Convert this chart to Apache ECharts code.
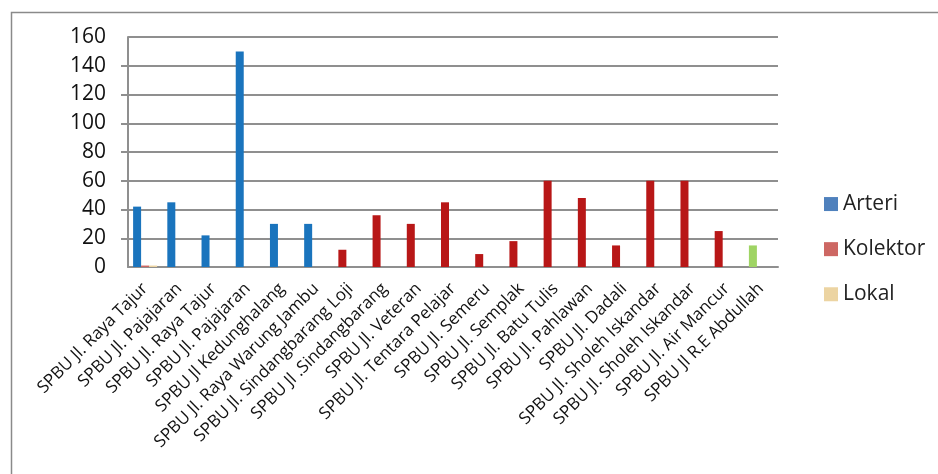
<html>

<head>
    <title>SPBU</title>
    <script src="https://cdn.jsdelivr.net/npm/echarts@6.0.0/dist/echarts.min.js"></script>
</head>

<body style="margin:0;">
    <div id="main" style="width:938px;height:474px;"></div>
    <script type="text/javascript">
        var categories = [
            "SPBU Jl. Raya Tajur", "SPBU Jl. Pajajaran", "SPBU Jl. Raya Tajur", "SPBU Jl. Pajajaran",
            "SPBU Jl Kedunghalang", "SPBU Jl. Raya Warung Jambu", "SPBU Jl. Sindangbarang Loji",
            "SPBU Jl .Sindangbarang", "SPBU Jl. Veteran", "SPBU Jl. Tentara Pelajar", "SPBU Jl. Semeru",
            "SPBU Jl. Semplak", "SPBU Jl. Batu Tulis", "SPBU Jl. Pahlawan", "SPBU Jl. Dadali",
            "SPBU Jl. Sholeh Iskandar", "SPBU Jl. Sholeh Iskandar", "SPBU Jl. Air Mancur", "SPBU Jl R.E Abdullah"
        ];
        // first series holds every station; colour follows the road class
        var arteri = [42, 45, 22, 150, 30, 30, 12, 36, 30, 45, 9, 18, 60, 48, 15, 60, 60, 25, 15];
        var roadClass = ["A", "A", "A", "A", "A", "A", "K", "K", "K", "K", "K", "K", "K", "K", "K", "K", "K", "K", "L"];
        var kolektor = [1, "-", "-", "-", "-", "-", "-", "-", "-", "-", "-", "-", "-", "-", "-", "-", "-", "-", "-"];
        var lokal = [1, "-", "-", "-", "-", "-", "-", "-", "-", "-", "-", "-", "-", "-", "-", "-", "-", "-", "-"];
        var seriesNames = ["Arteri", "Kolektor", "Lokal"];
        var yTicks = { min: 0, max: 160, interval: 20 };

        var classColor = { A: "#1a74bd", K: "#b81717", L: "#9fd464" };
        var gridColor = "#8f8f8f";
        var yLabelStyle = { fontSize: 21, color: "#111", margin: 22, fontFamily: "Open Sans", hideOverlap: false };

        var myChart = echarts.init(document.getElementById('main'));
        var option = {
            animation: false,
            backgroundColor: "#fff",
            textStyle: { fontFamily: "Open Sans" },
            graphic: [{
                type: "rect",
                left: 9, top: 10,
                shape: { width: 1000, height: 500 },
                style: { fill: "none", stroke: "#8a8a8a", lineWidth: 1.5 },
                silent: true
            }],
            grid: { left: 128, right: 160, top: 37, bottom: 207 },
            legend: {
                orient: "vertical",
                left: 819,
                top: 182,
                itemWidth: 14,
                itemHeight: 14,
                itemGap: 11,
                icon: "rect",
                textStyle: { fontSize: 21, color: "#222", fontFamily: "Open Sans" },
                data: seriesNames
            },
            xAxis: {
                type: "category",
                data: categories,
                axisLine: { lineStyle: { color: gridColor, width: 2 } },
                axisTick: { length: 5, lineStyle: { color: gridColor, width: 2 } },
                axisLabel: {
                    interval: 0, rotate: 45, fontSize: 17, color: "#111",
                    fontFamily: "Open Sans", margin: 19
                }
            },
            yAxis: [
                {
                    // inner labels (20..140) plus lines
                    type: "value", position: "left",
                    min: yTicks.min, max: yTicks.max, interval: yTicks.interval,
                    axisLine: { show: true, lineStyle: { color: gridColor, width: 2 } },
                    axisTick: { show: true, length: 7, lineStyle: { color: gridColor, width: 2 } },
                    axisLabel: Object.assign({ showMinLabel: false, showMaxLabel: false }, yLabelStyle),
                    splitLine: { showMinLine: true, showMaxLine: true, lineStyle: { color: gridColor, width: 2 } }
                },
                {
                    // end labels (0 and 160) only
                    type: "value", position: "left",
                    min: yTicks.min, max: yTicks.max, interval: yTicks.interval,
                    axisLine: { show: false }, axisTick: { show: false }, splitLine: { show: false },
                    axisLabel: Object.assign({
                        showMinLabel: true, showMaxLabel: true,
                        formatter: function (v) { return (v === yTicks.min || v === yTicks.max) ? String(v) : ""; }
                    }, yLabelStyle)
                }
            ],
            series: [
                {
                    name: seriesNames[0],
                    type: "bar",
                    barWidth: 8,
                    barGap: "0%",
                    itemStyle: { color: "#4f81bd" },
                    data: arteri.map(function (v, i) {
                        return { value: v, itemStyle: { color: classColor[roadClass[i]] } };
                    })
                },
                {
                    name: seriesNames[1],
                    type: "bar",
                    barWidth: 8,
                    barGap: "0%",
                    itemStyle: { color: "#cd6763" },
                    data: kolektor
                },
                {
                    name: seriesNames[2],
                    type: "bar",
                    barWidth: 8,
                    barGap: "0%",
                    itemStyle: { color: "#ecd4a2" },
                    data: lokal
                }
            ]
        };
        option && myChart.setOption(option);
    </script>
</body>

</html>
